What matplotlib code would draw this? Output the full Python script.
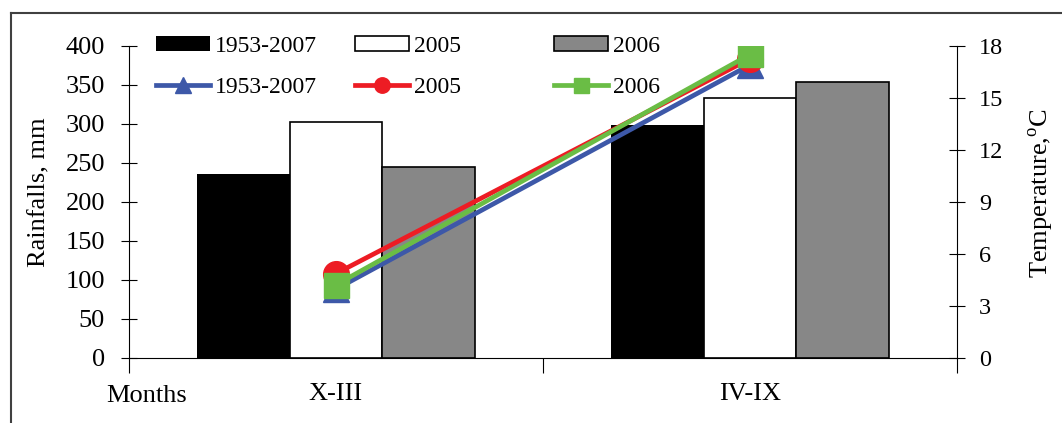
import matplotlib
matplotlib.use("Agg")
import matplotlib.pyplot as plt
from matplotlib.lines import Line2D
import numpy as np

# data
periods = ["X-III", "IV-IX"]
labels = ["1953-2007", "2005", "2006"]
rain_1953_2007 = [235, 298]
rain_2005 = [302, 333]
rain_2006 = [245, 354]
temp_1953_2007 = [3.95, 16.9]
temp_2005 = [4.85, 17.25]
temp_2006 = [4.2, 17.5]

plt.rcParams["font.family"] = "Liberation Serif"
plt.rcParams["mathtext.fontset"] = "custom"
plt.rcParams["mathtext.rm"] = "Liberation Serif"

W, H = 1062, 423
fig = plt.figure(figsize=(W / 100, H / 100), dpi=100)
ax = fig.add_axes([128.7 / W, 1 - 357.7 / H, 828.6 / W, 312 / H])

x = np.arange(len(periods))
w = 0.2233
b1 = ax.bar(x - w, rain_1953_2007, w, color="black", linewidth=0)
b2 = ax.bar(x, rain_2005, w, color="white", edgecolor="black", linewidth=1.2)
b3 = ax.bar(x + w, rain_2006, w, color="#878787", edgecolor="black", linewidth=1.2)

ax.set_xlim(-0.5, 1.5)
ax.set_ylim(0, 400)
ax.set_yticks(range(0, 401, 50))
ax.set_xticks([-0.5, 0.5, 1.5])
ax.set_xticklabels([])
ax.set_xticks(x, minor=True)
ax.set_xticklabels(periods, minor=True)
ax.tick_params(axis="x", which="major", direction="out", length=11, width=0.8)
ax.tick_params(axis="x", which="minor", length=0, pad=18, labelsize=19)
ax.tick_params(axis="y", direction="inout", length=11.5, width=0.8, pad=11.3, labelsize=19)
for s in ["top", "right"]:
    ax.spines[s].set_visible(False)
ax.spines["left"].set_linewidth(0.8)
ax.spines["bottom"].set_linewidth(0.8)
ax.set_ylabel("Rainfalls, mm", fontsize=19)
ax.yaxis.set_label_coords(-0.095, 0.531)

ax2 = ax.twinx()
ax2.set_ylim(0, 18)
ax2.set_yticks(range(0, 19, 3))
ax2.tick_params(axis="y", direction="inout", length=11.5, width=0.8, pad=10, labelsize=17.5)
for s in ["top", "left", "bottom"]:
    ax2.spines[s].set_visible(False)
ax2.spines["right"].set_linewidth(0.8)
ax2.set_ylabel("Temperature,$^{\\rm o}$C", fontsize=19)
ax2.yaxis.set_label_coords(1.084, 0.528)

l1, = ax2.plot(x, temp_1953_2007, color="#3D58A8", lw=3.4, marker="^", ms=18.5, zorder=3)
l2, = ax2.plot(x, temp_2005, color="#ED1C24", lw=3.4, marker="o", ms=18.5, zorder=4)
l3, = ax2.plot(x, temp_2006, color="#6ABD45", lw=3.4, marker="s", ms=18, zorder=5)

# three legend columns, bars on top row, lines below
lefts = [156, 355, 554]
for left, hb, hl, lab in zip(lefts, [b1, b2, b3], [l1, l2, l3], labels):
    fig.legend([hb, hl], [lab, lab], loc="upper left",
               bbox_to_anchor=(left / W, 1 - 36 / H), bbox_transform=fig.transFigure,
               frameon=False, fontsize=17, borderpad=0, borderaxespad=0,
               handlelength=2.29, handleheight=0.59, handletextpad=0.21,
               labelspacing=0.83, numpoints=1, markerscale=0.6)

fig.text(147 / W, 1 - 401.7 / H, "Months", ha="center", va="baseline", fontsize=19)

# outer frame (left and top edges only visible)
fig.add_artist(Line2D([11 / W, 11 / W], [0, 1 - 13 / H], color="#404040", lw=1.5))
fig.add_artist(Line2D([11 / W, 1], [1 - 13 / H, 1 - 13 / H], color="#404040", lw=1.5))

fig.savefig("out.png", dpi=100)
